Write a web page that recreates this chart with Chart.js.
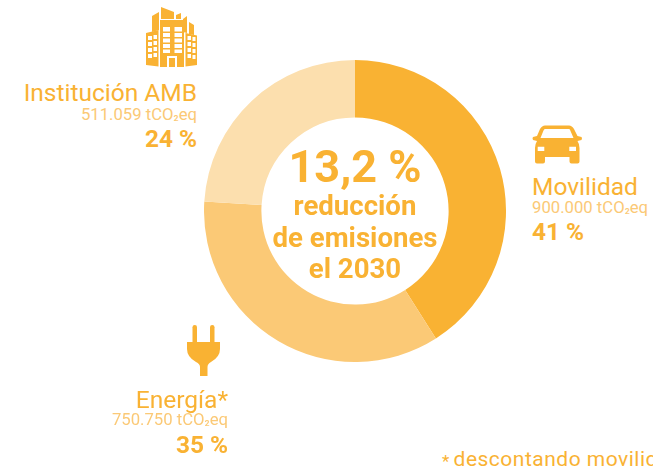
<!DOCTYPE html>
<html><head><meta charset="utf-8">
<script src="https://cdn.jsdelivr.net/npm/chart.js@4"></script>
<style>
html,body{margin:0;padding:0;background:#fff;width:653px;height:473px;overflow:hidden;font-family:Roboto,sans-serif}
#wrap{position:absolute;left:204px;top:60px;width:302px;height:302px}
.t{position:absolute;white-space:nowrap;line-height:1;color:#F9B233}
.r{text-align:right}.c{text-align:center;font-weight:700}
.s{font-size:16.700px;color:#FBC976}
.l{font-size:24.500px}
.p{font-size:24.400px;font-weight:700}
.u{position:relative;top:-2px;font-size:14px}
svg{position:absolute}
</style></head><body>
<div id="wrap"><canvas id="c" width="302" height="302"></canvas></div>

<svg style="left:146px;top:7px" width="52" height="61" viewBox="0 0 52 61" fill="#F9B233">
<path d="M15 0 L28 5 L28 12 L15 12Z M30 8 L35 6 L35 12 L30 12Z"/>
<path d="M6 9 L13 5 L13 23 L6 25Z M37 12 L41 9 L41 26 L37 25Z M43 15 L48 18 L48 28 L43 27Z"/>
<path fill-rule="evenodd" d="M14 13 H38 V60 H14Z M17 20v4.500h7v-4.500z M28.500 20v4.500h7.500v-4.500z M17 26v4h7v-4z M28.500 26v4h7.500v-4z M17 31.500v4h7v-4z M28.500 31.500v4h7.500v-4z M17 37v4h7v-4z M28.500 37v4h7.500v-4z M17 42.500v3.500h7v-3.500z M28.500 42.500v3.500h7.500v-3.500z M21 49v11h10v-11z"/>
<path d="M23 51h6v9h-6z"/>
<path fill-rule="evenodd" d="M0 26 L12.500 23 V59.500 L0 58Z M2 29v4h4v-4z M7.500 28v4h3.500v-4z M2 35v4h4v-4z M7.500 34v4h3.500v-4z M2 41v4h4v-4z M7.500 40v4h3.500v-4z M2 47v4h4v-4z M7.500 46v4h3.500v-4z"/>
<path fill-rule="evenodd" d="M39.500 26 L51 28.500 V58 L39.500 59.500Z M41.500 29v4h3.500v-4z M46.500 30v4h3v-4z M41.500 35v4h3.500v-4z M46.500 36v4h3v-4z M41.500 41v4h3.500v-4z M46.500 42v4h3v-4z M41.500 47v4h3.500v-4z M46.500 48v4h3v-4z"/>
</svg>

<svg style="left:531px;top:125px" width="52" height="40" viewBox="0 0 52 40" fill="#F9B233">
<path fill-rule="evenodd" d="M14 0.500 H38 Q41 0.500 43 4 L46.500 11 L50.500 12 Q51.500 13 50.500 15 L46.500 16 Q48.500 19 48.500 23 V36.500 Q48.500 38.500 46.500 38.500 H40.500 Q38.500 38.500 38.500 36.500 V32 H14 V36.500 Q14 38.500 12 38.500 H6 Q4 38.500 4 36.500 V23 Q4 19 6 16 L2 15 Q1 13 2 12 L6 11 L9 4 Q11 0.500 14 0.500Z M14 4 Q13 4 12.300 6 L9.500 13 H42.500 L39.500 6 Q39 4 38 4Z M6.700 21.700 V26 H13.300 V21.700Z M38.300 21.700 V26 H45 V21.700Z"/>
</svg>

<svg style="left:187px;top:325px" width="34" height="52" viewBox="0 0 34 52" fill="#F9B233">
<rect x="5.500" y="0" width="4.500" height="19" rx="2.200"/><rect x="23" y="0" width="4.500" height="19" rx="2.200"/>
<path d="M0 17 H33 V24 Q33 32 24 37 Q20.500 39 20.500 42 V51 H13 V42 Q13 39 9 37 Q0 32 0 24Z"/>
</svg>

<div class="t r l" style="right:456px;top:81.400px">Institución AMB</div>
<div class="t r s" style="right:456px;top:106.500px">511.059 tCO<span class="u">₂</span>eq</div>
<div class="t r p" style="right:456px;top:127px">24 %</div>

<div class="t l" style="left:532px;top:175.400px">Movilidad</div>
<div class="t s" style="left:532px;top:200px">900.000 tCO<span class="u">₂</span>eq</div>
<div class="t p" style="left:532px;top:219.800px">41 %</div>

<div class="t r l" style="right:425px;top:388px">Energía*</div>
<div class="t r s" style="right:425px;top:411.500px">750.750 tCO<span class="u">₂</span>eq</div>
<div class="t r p" style="right:425px;top:432.800px">35 %</div>

<div class="t c" style="left:205px;width:300px;top:144px;font-size:45px">13,2 %</div>
<div class="t c" style="left:205px;width:300px;top:192px;font-size:27.600px">reducción</div>
<div class="t c" style="left:205px;width:300px;top:224px;font-size:27.600px">de emisiones</div>
<div class="t c" style="left:205px;width:300px;top:255px;font-size:27.600px">el 2030</div>

<div class="t" style="left:442px;top:449px;font-size:21px;letter-spacing:.5px"><span style="font-size:17px;position:relative;top:1px;margin-right:-2px">*</span> descontando movilidad</div>

<script>
const categories=["Movilidad","Energía","Institución AMB"];
const emissions=[900000,750750,511059];
const shares=[41,35,24];
const sliceColors=["#F9B233","#FBC976","#FCDFAE"];
new Chart(document.getElementById("c"),{
  type:"doughnut",
  data:{labels:categories,datasets:[{data:shares,backgroundColor:sliceColors,borderWidth:0,hoverOffset:0}]},
  options:{responsive:false,animation:false,cutout:"62%",layout:{padding:0},
    plugins:{legend:{display:false},tooltip:{enabled:false},title:{display:false}}}
});
</script>
</body></html>
